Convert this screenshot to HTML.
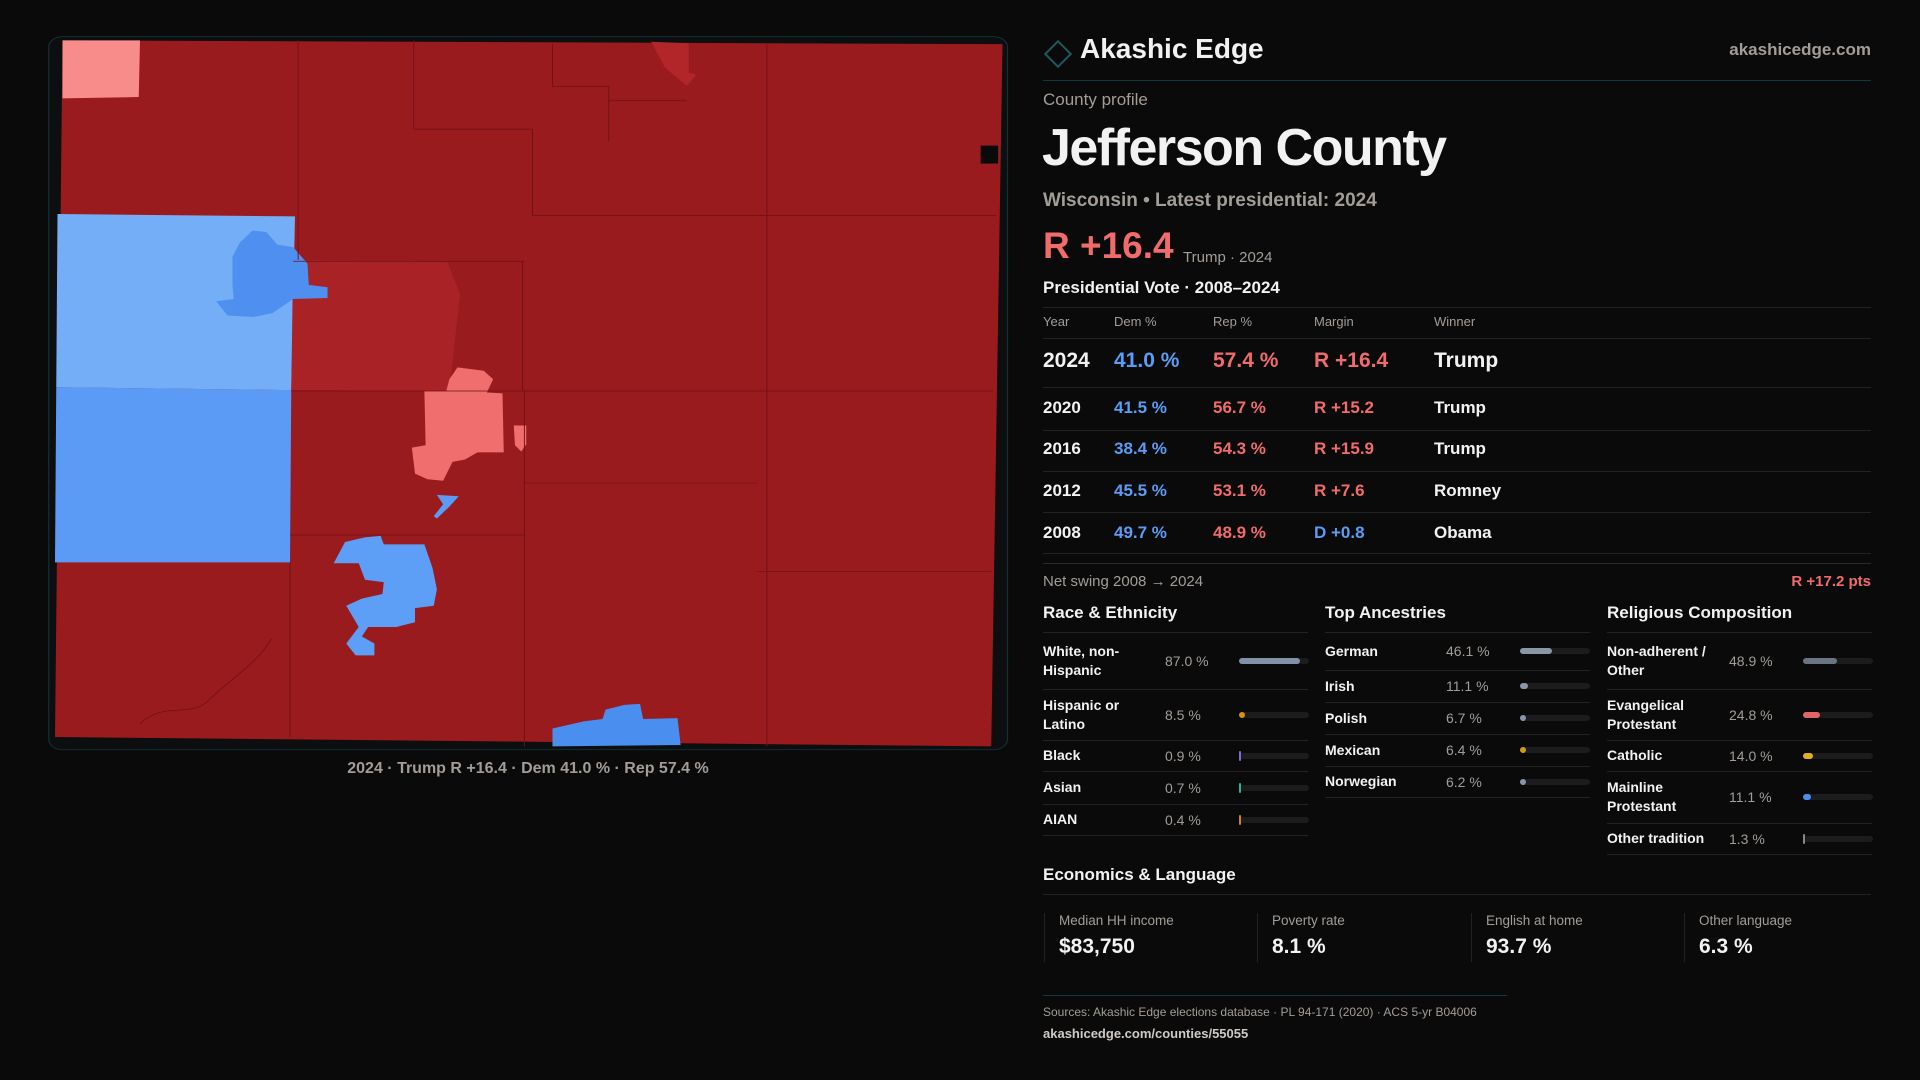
<!DOCTYPE html>
<html><head><meta charset="utf-8">
<style>
body{margin:0;width:1920px;height:1080px;background:#0a0a0b;font-family:"Liberation Sans",sans-serif;color:#f2f2f2;position:relative;overflow:hidden}
.a{position:absolute;white-space:nowrap}
.m{color:#a39d97}
.r{color:#f26b6b}.b{color:#5b9cf5}
.ln{position:absolute;height:1px;background:#222}
.th{font-size:13px;color:#a39d97}
.row{font-size:17px;font-weight:bold}
.row.big{font-size:21px}
.lbl{font-size:14px;line-height:19px;font-weight:bold}
.val{font-size:14px;color:#a39d97}
.card{position:absolute;top:913px;height:49px;border-left:1px solid #222}
</style></head><body>
<svg style="position:absolute;left:40px;top:30px" width="980" height="740" viewBox="0 0 1568 1568" preserveAspectRatio="none">
<rect x="14" y="14" width="1534" height="1511" rx="22" fill="#0c0e10" stroke="#123036" stroke-width="2"/>
<polygon points="36,22 1540,30 1522,1518 24,1498" fill="#9a1b1e"/>
<polygon points="36,22 160,22 158,142 36,145" fill="#f88c8a"/>
<polygon points="28,390 408,395 402,763 26,757" fill="#74aef7"/>
<polygon points="26,757 402,763 400,1128 24,1128" fill="#5b9bf5"/>
<polygon points="405,487 652,492 672,560 655,765 402,763" fill="#a82226"/>
<polygon points="308,480 320,450 340,425 362,428 380,455 405,460 428,495 430,540 460,545 460,568 405,570 372,600 342,608 300,605 282,575 310,570 308,540" fill="#4f8ff0"/>
<polygon points="615,765 650,765 655,740 668,715 710,722 725,740 715,768 740,770 742,895 700,895 680,910 660,915 645,955 620,952 600,940 595,885 617,880" fill="#f06e6d"/>
<polygon points="758,838 778,838 778,878 770,893 760,880" fill="#f06e6d"/>
<polygon points="635,985 670,988 655,1010 635,1035 630,1030 645,1005" fill="#5b9bf5"/>
<polygon points="470,1130 488,1085 520,1075 545,1072 550,1090 615,1090 628,1140 635,1185 630,1220 600,1225 600,1255 570,1265 525,1265 515,1285 535,1300 535,1325 505,1325 490,1300 510,1265 490,1220 515,1205 548,1195 550,1170 520,1165 510,1130" fill="#5d9ff7"/>
<polygon points="820,1480 870,1465 900,1460 905,1440 935,1430 960,1428 965,1460 1020,1458 1025,1515 820,1518" fill="#4a8ef0"/>
<polygon points="978,25 1038,28 1038,90 1050,95 1035,118 1000,80" fill="#b22528"/>
<rect x="1505" y="245" width="28" height="38" fill="#0a0a0b"/>
<g stroke="#6e1114" stroke-width="1.5" fill="none">
<path d="M413,22V487M598,22V210H788V395M1163,30V1518M775,765V1518M400,1128V1498M772,490V765"/>
<path d="M788,393H1530M405,490H775M402,765H1525M775,960H1148M400,1070H775M1147,1147H1522"/>
<path d="M820,30V120H910V235M910,150H1035M160,1470C200,1420 240,1460 270,1420C300,1380 350,1340 370,1290"/>
</g>
</svg>
<div class="a m" style="left:0;width:1056px;text-align:center;top:760px;font-size:16px;font-weight:bold">2024 · Trump R +16.4 · Dem 41.0 % · Rep 57.4 %</div>

<div class="a" style="left:1048px;top:44px;width:16px;height:16px;border:2px solid #1d5a60;transform:rotate(45deg)"></div>
<div class="a" style="left:1080px;top:33px;font-size:28px;font-weight:bold">Akashic Edge</div>
<div class="a m" style="right:49px;top:40px;font-size:17px;font-weight:bold">akashicedge.com</div>
<div class="ln" style="left:1043px;width:828px;top:80px;background:#12383c"></div>
<div class="a m" style="left:1043px;top:90px;font-size:17px">County profile</div>
<div class="a" style="left:1042px;top:118px;font-size:52px;font-weight:bold;letter-spacing:-1.5px">Jefferson County</div>
<div class="a m" style="left:1043px;top:190px;font-size:19px;font-weight:bold">Wisconsin • Latest presidential: 2024</div>
<div class="a r" style="left:1043px;top:225px;font-size:37px;font-weight:bold">R +16.4</div>
<div class="a m" style="left:1183px;top:249px;font-size:15px">Trump · 2024</div>
<div class="a" style="left:1043px;top:278px;font-size:17px;font-weight:bold">Presidential Vote · 2008–2024</div>
<div class="ln" style="left:1043px;width:828px;top:307px"></div>
<div class="a th" style="left:1043px;top:314px">Year</div>
<div class="a th" style="left:1114px;top:314px">Dem %</div>
<div class="a th" style="left:1213px;top:314px">Rep %</div>
<div class="a th" style="left:1314px;top:314px">Margin</div>
<div class="a th" style="left:1434px;top:314px">Winner</div>
<div class="ln" style="left:1043px;width:828px;top:338px"></div>

<div class="a row big" style="left:1043px;top:349px">2024</div>
<div class="a row big b" style="left:1114px;top:349px">41.0 %</div>
<div class="a row big r" style="left:1213px;top:349px">57.4 %</div>
<div class="a row big r" style="left:1314px;top:349px">R +16.4</div>
<div class="a row big" style="left:1434px;top:349px">Trump</div>
<div class="ln" style="left:1043px;width:828px;top:387px"></div>

<div class="a row" style="left:1043px;top:398px">2020</div>
<div class="a row b" style="left:1114px;top:398px">41.5 %</div>
<div class="a row r" style="left:1213px;top:398px">56.7 %</div>
<div class="a row r" style="left:1314px;top:398px">R +15.2</div>
<div class="a row" style="left:1434px;top:398px">Trump</div>
<div class="ln" style="left:1043px;width:828px;top:430px"></div>

<div class="a row" style="left:1043px;top:439px">2016</div>
<div class="a row b" style="left:1114px;top:439px">38.4 %</div>
<div class="a row r" style="left:1213px;top:439px">54.3 %</div>
<div class="a row r" style="left:1314px;top:439px">R +15.9</div>
<div class="a row" style="left:1434px;top:439px">Trump</div>
<div class="ln" style="left:1043px;width:828px;top:471px"></div>

<div class="a row" style="left:1043px;top:481px">2012</div>
<div class="a row b" style="left:1114px;top:481px">45.5 %</div>
<div class="a row r" style="left:1213px;top:481px">53.1 %</div>
<div class="a row r" style="left:1314px;top:481px">R +7.6</div>
<div class="a row" style="left:1434px;top:481px">Romney</div>
<div class="ln" style="left:1043px;width:828px;top:512px"></div>

<div class="a row" style="left:1043px;top:523px">2008</div>
<div class="a row b" style="left:1114px;top:523px">49.7 %</div>
<div class="a row r" style="left:1213px;top:523px">48.9 %</div>
<div class="a row b" style="left:1314px;top:523px">D +0.8</div>
<div class="a row" style="left:1434px;top:523px">Obama</div>
<div class="ln" style="left:1043px;width:828px;top:553px"></div>
<div class="ln" style="left:1043px;width:828px;top:563px;background:#2a2a2a"></div>

<div class="a m" style="left:1043px;top:573px;font-size:15px">Net swing 2008 → 2024</div>
<div class="a r" style="right:49px;top:573px;font-size:15px;font-weight:bold">R +17.2 pts</div>

<div class="a" style="left:1043px;top:603px;font-size:17px;font-weight:bold">Race &amp; Ethnicity</div>
<div class="a" style="left:1325px;top:603px;font-size:17px;font-weight:bold">Top Ancestries</div>
<div class="a" style="left:1607px;top:603px;font-size:17px;font-weight:bold">Religious Composition</div>
<div id="panels"></div>

<div class="a" style="left:1043px;top:865px;font-size:17px;font-weight:bold">Economics &amp; Language</div>
<div class="ln" style="left:1043px;width:828px;top:894px"></div>
<div class="card" style="left:1044px"><div class="a m" style="left:14px;top:0;font-size:13.5px">Median HH income</div><div class="a" style="left:14px;top:22px;font-size:21px;font-weight:bold">$83,750</div></div>
<div class="card" style="left:1257px"><div class="a m" style="left:14px;top:0;font-size:13.5px">Poverty rate</div><div class="a" style="left:14px;top:22px;font-size:21px;font-weight:bold">8.1 %</div></div>
<div class="card" style="left:1471px"><div class="a m" style="left:14px;top:0;font-size:13.5px">English at home</div><div class="a" style="left:14px;top:22px;font-size:21px;font-weight:bold">93.7 %</div></div>
<div class="card" style="left:1684px"><div class="a m" style="left:14px;top:0;font-size:13.5px">Other language</div><div class="a" style="left:14px;top:22px;font-size:21px;font-weight:bold">6.3 %</div></div>

<div class="ln" style="left:1043px;width:464px;top:995px;background:#12383c"></div>
<div class="a m" style="left:1043px;top:1005px;font-size:12px">Sources: Akashic Edge elections database · PL 94-171 (2020) · ACS 5-yr B04006</div>
<div class="a" style="left:1043px;top:1026px;font-size:13px;font-weight:bold;color:#cfcac5">akashicedge.com/counties/55055</div>

<script>
const raceLabels=["White, non-<br>Hispanic","Hispanic or<br>Latino","Black","Asian","AIAN"];
const raceValues=[87.0,8.5,0.9,0.7,0.4];
const raceColors=["#8391a8","#d4920f","#7b6fd6","#2ab3a0","#d4820f"];
const ancLabels=["German","Irish","Polish","Mexican","Norwegian"];
const ancValues=[46.1,11.1,6.7,6.4,6.2];
const ancColors=["#8a96a8","#8a96a8","#8a96a8","#d49a0f","#8a96a8"];
const relLabels=["Non-adherent /<br>Other","Evangelical<br>Protestant","Catholic","Mainline<br>Protestant","Other tradition"];
const relValues=[48.9,24.8,14.0,11.1,1.3];
const relColors=["#6c7383","#e06666","#e0b020","#4a8ff0","#888888"];
const raceRows=[[632,689],[689,740],[740,771],[771,804],[804,835]];
const ancRows=[[632,670],[670,702],[702,734],[734,766],[766,797]];
const relRows=[[632,689],[689,740],[740,771],[771,823],[823,854]];
const host=document.getElementById('panels');
const TRACK=70;
function xScale(v){return v/100*TRACK;}
function panel(x0,valX,barX,labels,values,colors,rows,key){
  rows.forEach((r,i)=>{
    const cy=(r[0]+r[1])/2;
    const lab=document.createElement('div');
    lab.className='a lbl';
    
    
    lab.style.left=x0+'px';
    const two=labels[i].includes('<br>');
    lab.style.top=(cy-(two?19:9.5))+'px';
    lab.innerHTML=labels[i];
    host.appendChild(lab);
    const v=document.createElement('div');
    v.className='a val';
    
    
    v.style.left=valX+'px';v.style.top=(cy-8)+'px';
    v.textContent=values[i].toFixed(1)+' %';
    host.appendChild(v);
    const t=document.createElement('div');
    t.className='a';
    
    
    t.style.cssText='left:'+barX+'px;top:'+(cy-3)+'px;width:'+TRACK+'px;height:6px;border-radius:3px;background:#1c1c1f';
    host.appendChild(t);
    const f=document.createElement('div');
    f.className='a';
    
    
    const w=Math.max(xScale(values[i]),values[i]<2?1.5:6);
    f.style.cssText='left:'+barX+'px;top:'+(cy-(values[i]<2?5:3))+'px;width:'+w+'px;height:'+(values[i]<2?10:6)+'px;border-radius:3px;background:'+colors[i];
    host.appendChild(f);
    const ln=document.createElement('div');
    ln.className='ln';
    
    
    ln.style.left=x0+'px';ln.style.width='265px';ln.style.top=r[1]+'px';
    host.appendChild(ln);
  });
  const h=document.createElement('div');
  h.className='ln';
  
  
  h.style.left=x0+'px';h.style.width='265px';h.style.top='632px';
  host.appendChild(h);
}
panel(1043,1165,1239,raceLabels,raceValues,raceColors,raceRows,'race');
panel(1325,1446,1520,ancLabels,ancValues,ancColors,ancRows,'ancestry');
panel(1607,1729,1803,relLabels,relValues,relColors,relRows,'religion');
</script>
</body></html>
